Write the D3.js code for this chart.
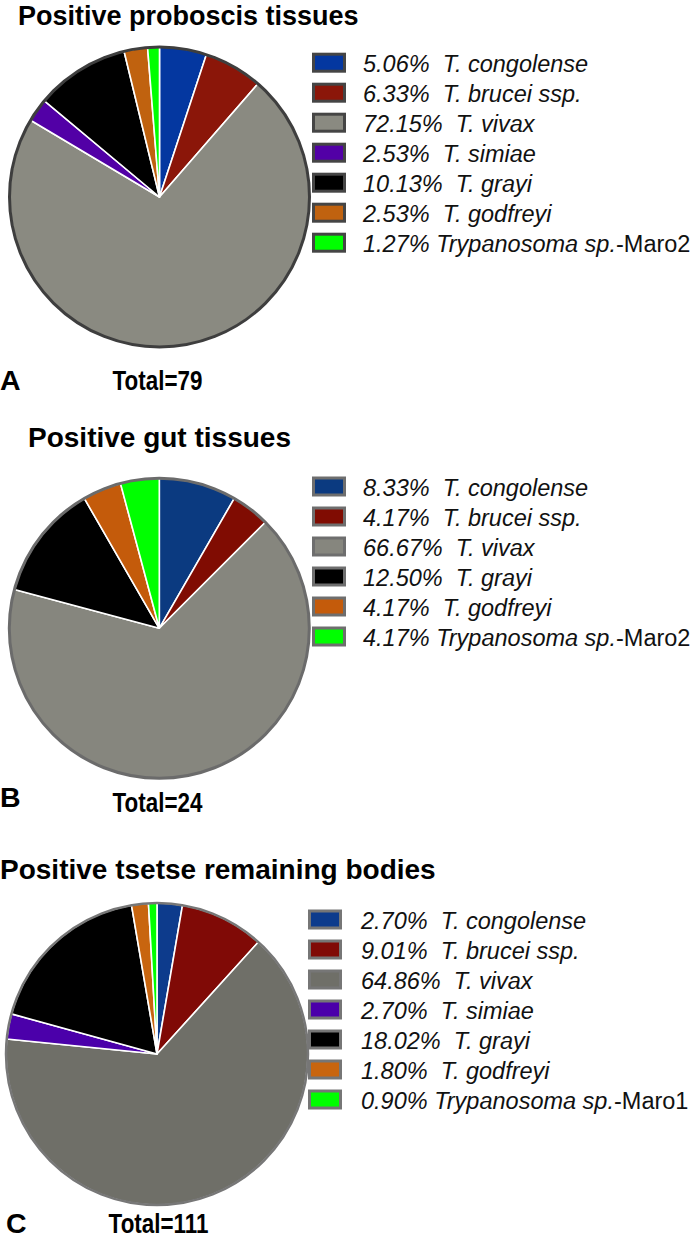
<!DOCTYPE html>
<html>
<head>
<meta charset="utf-8">
<script src="https://cdn.jsdelivr.net/npm/d3@7"></script>
<style>
  html, body { margin: 0; padding: 0; background: #fff; }
  svg { display: block; font-family: "Liberation Sans", Arial, Helvetica, sans-serif; }
</style>
</head>
<body>
<svg id="chart" width="697" height="1238"></svg>
<script>
// ---------- data ----------
const titles = ["Positive proboscis tissues", "Positive gut tissues", "Positive tsetse remaining bodies"];
const panelLetters = ["A", "B", "C"];

const speciesA = ["T. congolense", "T. brucei ssp.", "T. vivax", "T. simiae", "T. grayi", "T. godfreyi", "Trypanosoma sp."];
const suffixA  = ["", "", "", "", "", "", "-Maro2"];
const countsA  = [4, 5, 57, 2, 8, 2, 1];

const speciesB = ["T. congolense", "T. brucei ssp.", "T. vivax", "T. grayi", "T. godfreyi", "Trypanosoma sp."];
const suffixB  = ["", "", "", "", "", "-Maro2"];
const countsB  = [2, 1, 16, 3, 1, 1];

const speciesC = ["T. congolense", "T. brucei ssp.", "T. vivax", "T. simiae", "T. grayi", "T. godfreyi", "Trypanosoma sp."];
const suffixC  = ["", "", "", "", "", "", "-Maro1"];
const countsC  = [3, 10, 72, 3, 20, 2, 1];

// ---------- styles ----------
const colorsA = ["#0437a0", "#8b1609", "#8a8a81", "#5200a6", "#000000", "#c0620f", "#00ff00"];
const colorsB = ["#0b3a80", "#800c02", "#86867e", "#000000", "#c45b0b", "#00ff00"];
const colorsC = ["#0d3b8c", "#800a06", "#6f6f68", "#4b00aa", "#000000", "#c8650f", "#00ff00"];

const layout = [
  { cx: 159.5, cy: 197, r: 150, titleX: 18, titleY: 25, titleSize: 27, legX: 312, legY: 62.7, textX: 363,
    letterX: 0, letterY: 390, totalX: 157.5, totalY: 390, outline: "#3e3e3e", outlineW: 3, swStroke: "#454545" },
  { cx: 159.3, cy: 628.3, r: 150, titleX: 28, titleY: 447, titleSize: 28, legX: 312, legY: 486.5, textX: 363,
    letterX: 0, letterY: 807, totalX: 157.5, totalY: 812, outline: "#6b6b6b", outlineW: 3, swStroke: "#6e6e6e" },
  { cx: 157, cy: 1054, r: 151, titleX: 0, titleY: 879, titleSize: 28, legX: 308, legY: 919.5, textX: 361,
    letterX: 6, letterY: 1233, totalX: 158.5, totalY: 1233, outline: "#777777", outlineW: 2.5, swStroke: "#767676" }
];

const panels = [
  { species: speciesA, suffix: suffixA, counts: countsA, colors: colorsA },
  { species: speciesB, suffix: suffixB, counts: countsB, colors: colorsB },
  { species: speciesC, suffix: suffixC, counts: countsC, colors: colorsC }
];

const svg = d3.select("#chart");
const pie = d3.pie().sort(null).value(d => d);

panels.forEach((p, i) => {
  const L = layout[i];
  const total = d3.sum(p.counts);
  const g = svg.append("g");

  // title
  g.append("text")
    .attr("x", L.titleX).attr("y", L.titleY)
    .attr("font-size", L.titleSize).attr("font-weight", "bold").attr("fill", "#000")
    .text(titles[i]);

  // pie
  const arc = d3.arc().innerRadius(0).outerRadius(L.r);
  const pg = g.append("g").attr("transform", `translate(${L.cx},${L.cy})`);
  pg.selectAll("path.slice")
    .data(pie(p.counts))
    .join("path")
    .attr("class", "slice")
    .attr("d", arc)
    .attr("fill", (d, j) => p.colors[j])
    .attr("stroke", "#ffffff")
    .attr("stroke-width", 1.6)
    .attr("stroke-linejoin", "round");
  pg.append("circle")
    .attr("r", L.r)
    .attr("fill", "none")
    .attr("stroke", L.outline)
    .attr("stroke-width", L.outlineW);

  // legend
  const y = d3.scaleLinear().domain([0, 1]).range([L.legY, L.legY + 30]);
  const rows = g.selectAll("g.leg")
    .data(p.counts)
    .join("g")
    .attr("class", "leg")
    .attr("transform", (d, j) => `translate(0,${y(j)})`);
  rows.append("rect")
    .attr("x", L.legX + 1.5).attr("y", -8.5)
    .attr("width", 31).attr("height", 17)
    .attr("fill", (d, j) => p.colors[j])
    .attr("stroke", L.swStroke)
    .attr("stroke-width", 3);
  const t = rows.append("text")
    .attr("x", L.textX).attr("y", 9)
    .attr("font-size", 23.5)
    .attr("fill", "#111")
    .attr("xml:space", "preserve")
    .style("white-space", "pre");
  t.append("tspan")
    .attr("font-style", "italic")
    .text((d, j) => (d / total * 100).toFixed(2) + "%" + (p.suffix[j] ? " " : "  ") + p.species[j]);
  t.append("tspan")
    .text((d, j) => p.suffix[j]);

  // panel letter and total
  g.append("text")
    .attr("x", L.letterX).attr("y", L.letterY)
    .attr("font-size", 28.5).attr("font-weight", "bold").attr("fill", "#000")
    .text(panelLetters[i]);
  g.append("text")
    .attr("transform", `translate(${L.totalX},${L.totalY}) scale(0.8,1)`)
    .attr("text-anchor", "middle")
    .attr("font-size", 28).attr("font-weight", "bold").attr("fill", "#000")
    .text("Total=" + total);
});
</script>
</body>
</html>
